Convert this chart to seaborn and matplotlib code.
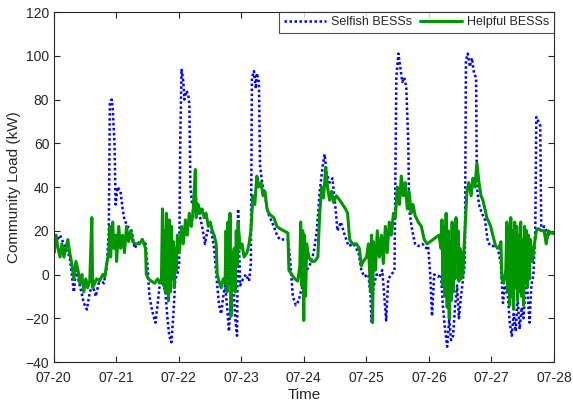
import numpy as np
import pandas as pd
import seaborn as sns
import matplotlib
matplotlib.use("Agg")
import matplotlib.pyplot as plt
import matplotlib.dates as mdates

# hours after 07-20 00:00, load in kW
selfish_hours = [0.0, 0.6, 2.5, 4.3, 6.2, 7.8, 8.6, 10.1, 11.6, 12.8, 13.9, 15.0, 16.2, 17.7, 19.3, 20.4,
                 21.2, 21.6, 22.3, 22.7, 23.4, 23.8, 24.6, 25.7, 26.5, 27.2, 28.4, 30.0, 31.1, 32.2, 33.8,
                 35.3, 36.0, 36.8, 37.9, 39.1, 39.9, 40.7, 41.8, 42.9, 43.7, 44.4, 45.2, 46.0, 46.7, 47.5,
                 48.2, 48.6, 49.1, 49.8, 50.2, 51.0, 51.7, 52.1, 52.5, 53.2, 54.4, 55.5, 57.0, 58.1, 59.0,
                 60.5, 61.6, 62.8, 63.5, 64.3, 65.1, 65.8, 66.6, 67.3, 68.1, 68.8, 69.7, 70.4, 70.8, 71.6,
                 72.7, 73.8, 75.0, 75.7, 76.1, 76.9, 77.6, 78.0, 78.8, 79.2, 80.0, 81.1, 82.3, 83.4, 84.5,
                 85.7, 86.8, 88.3, 89.9, 90.7, 91.8, 92.9, 94.1, 94.8, 96.0, 97.1, 98.2, 99.8, 101.0,
                 102.1, 103.3, 104.0, 104.8, 105.9, 107.0, 108.2, 108.9, 110.2, 111.7, 113.2, 115.1,
                 117.0, 118.1, 119.2, 120.8, 121.6, 122.0, 122.7, 123.9, 125.0, 126.1, 126.9, 127.6,
                 128.4, 129.6, 130.8, 131.5, 132.3, 133.0, 133.8, 134.5, 135.3, 136.1, 136.4, 137.6,
                 138.7, 139.9, 141.5, 143.0, 143.7, 144.5, 145.2, 146.0, 147.5, 148.6, 149.4, 150.2,
                 151.0, 151.8, 152.5, 153.3, 154.0, 154.8, 155.5, 156.3, 157.0, 157.8, 158.2, 158.9,
                 159.7, 160.5, 161.3, 162.1, 162.4, 163.2, 164.3, 165.5, 166.6, 167.7, 169.2, 170.4,
                 171.6, 172.4, 173.1, 174.3, 175.0, 175.8, 176.5, 177.3, 178.0, 178.8, 179.6, 180.3,
                 181.1, 181.8, 182.6, 183.3, 184.1, 184.8, 185.2, 186.0, 186.7, 187.1, 188.2, 189.4,
                 190.5, 192.0]
selfish_load = [16, 14, 18, 13, 8, -8, 2, -5, -13, -16, -8, -5, -10, -2, -4, 3,
                20, 78, 80, 76, 60, 32, 40, 38, 30, 25, 22, 20, 12, 14, 16,
                14, 5, -10, -17, -22, -14, -5, -3, -8, -20, -28, -31, -18, -2, 0,
                5, 60, 94, 88, 80, 84, 82, 78, 40, 32, 36, 30, 22, 14, 20,
                20, 12, -5, -14, -18, -10, -5, -15, -26, -8, 0, -20, -28, 30, -5,
                -2, 0, -3, 5, 90, 93, 85, 92, 88, 50, 42, 36, 28, 25, 22,
                18, 16, 16, 16, 8, -10, -14, -12, -8, -4, 2, 4, 10, 20,
                38, 50, 55, 46, 42, 44, 30, 20, 24, 18, 13, 14,
                10, 2, -1, 0, -10, -22, -6, 0, -1, 2, -10, -21,
                -2, 0, 2, 90, 101, 95, 88, 90, 86, 60, 30, 20,
                14, 13, 14, 12, 13, 0, -19, 0, -1, 0, -15, -25,
                -33, -20, -30, -28, -15, -5, -20, -10, -3, 5, 98, 101,
                95, 99, 92, 90, 40, 32, 28, 25, 15, 13, 13, 12,
                5, -13, -5, -10, -22, -28, -18, -26, -10, -25, -15, -20,
                -5, -8, -22, -5, 0, 20, 72, 70, 68, 20, 22, 19,
                18, 19]

helpful_hours = [0.0, 0.2, 1.0, 1.7, 2.5, 3.2, 4.0, 4.7, 5.5, 6.2, 7.0, 7.8, 8.6, 9.4, 10.1,
                 10.9, 11.6, 12.4, 13.1, 13.9, 14.7, 15.0, 15.8, 16.5, 17.7, 18.9, 19.7, 20.4, 21.2,
                 21.6, 21.9, 22.7, 23.1, 23.8, 24.2, 25.0, 25.7, 26.5, 27.2, 28.0, 28.8, 29.6, 30.4,
                 31.5, 33.0, 34.1, 35.3, 35.6, 36.4, 37.5, 38.8, 39.9, 40.7, 41.4, 41.8, 42.2, 42.5,
                 42.9, 43.3, 43.7, 44.1, 44.4, 44.8, 45.2, 45.6, 46.0, 46.3, 46.7, 47.1, 47.5, 48.2,
                 49.1, 49.8, 50.6, 51.3, 52.1, 52.9, 53.6, 54.4, 54.7, 55.5, 56.3, 57.0, 57.8, 58.5,
                 59.4, 60.1, 60.9, 61.6, 62.4, 62.8, 63.5, 64.3, 65.1, 65.8, 66.2, 66.6, 66.9, 67.3,
                 67.7, 68.1, 68.5, 68.8, 69.3, 69.7, 70.1, 70.4, 70.8, 71.6, 72.3, 73.1, 74.2, 75.0,
                 75.7, 76.5, 77.2, 78.0, 78.8, 79.6, 80.4, 81.1, 81.9, 82.6, 83.4, 84.5, 85.7, 86.8,
                 88.3, 89.9, 90.3, 91.4, 92.6, 93.7, 94.5, 94.8, 95.2, 95.6, 96.0, 96.3, 96.7, 97.1,
                 97.9, 99.0, 100.2, 101.4, 102.1, 102.9, 103.6, 104.4, 105.1, 105.9, 106.7, 107.4,
                 108.5, 109.8, 110.9, 112.0, 112.8, 113.6, 114.7, 116.2, 117.3, 118.1, 118.8, 120.1,
                 120.8, 121.6, 122.0, 122.4, 122.7, 123.5, 124.2, 125.0, 125.8, 126.5, 127.3, 128.0,
                 128.8, 129.6, 130.4, 131.1, 131.9, 132.7, 133.4, 134.2, 134.9, 135.7, 136.4, 137.2,
                 137.9, 138.7, 139.9, 141.1, 142.2, 143.3, 144.5, 145.6, 146.7, 147.9, 148.6, 149.0,
                 149.4, 149.8, 150.2, 150.6, 151.0, 151.4, 151.8, 152.1, 152.5, 152.9, 153.3, 153.6,
                 154.0, 154.4, 154.8, 155.2, 155.5, 155.9, 156.3, 156.7, 157.0, 157.8, 158.6, 159.3,
                 160.2, 160.9, 161.7, 162.4, 163.2, 164.0, 164.7, 165.5, 166.2, 167.0, 167.7, 168.5,
                 169.6, 170.9, 171.6, 172.0, 172.7, 173.5, 173.9, 174.3, 174.6, 175.0, 175.4, 175.8,
                 176.1, 176.5, 176.9, 177.3, 177.7, 178.0, 178.4, 178.8, 179.2, 179.6, 179.9, 180.3,
                 180.7, 181.1, 181.4, 181.8, 182.2, 182.6, 182.9, 183.7, 184.5, 185.2, 186.0, 187.1,
                 188.2, 189.0, 189.8, 190.9, 192.0]
helpful_load = [15, 10, 18, 12, 8, 14, 8, 12, 16, 10, 5, -2, 6, 2, -4,
                0, -8, -2, -6, -3, 26, -6, -4, -2, -3, 0, -1, 5, 10,
                22, 8, 24, 12, 18, 6, 22, 12, 18, 10, 22, 15, 20, 15,
                14, 14, 16, 12, 0, -2, -3, -4, -2, -4, -2, 30, -5, 20,
                -8, 28, 0, -12, 25, -8, 22, -2, 15, -6, 12, 2, 18, 10,
                22, 14, 25, 18, 28, 22, 30, 48, 26, 32, 28, 30, 26, 28,
                22, 24, 20, 18, 14, 0, -3, -6, -2, -4, 20, -8, 24, -4,
                28, -19, 10, -5, 12, -8, 20, 4, 24, 12, 14, 8, 10, 14,
                20, 36, 32, 45, 40, 42, 36, 38, 30, 28, 27, 26, 22, 21,
                20, 19, 2, 0, -2, -3, 4, 24, -5, 20, -21, 18, -10, 14,
                8, 6, 6, 8, 28, 40, 35, 49, 40, 34, 38, 33,
                36, 34, 32, 30, 28, 16, 14, 14, 12, 4, 6, 8,
                14, -8, 18, -22, 15, 2, 20, 8, 18, 5, 22, 10,
                24, 18, 28, 26, 40, 32, 45, 36, 42, 30, 38, 28,
                32, 27, 24, 22, 16, 14, 15, 16, 17, 18, 12, 25,
                -5, 22, -10, 28, -15, 20, -20, 15, -12, 24, -8, 18,
                -2, 26, 5, 20, -3, 12, -2, 10, 0, 20, 38, 42,
                36, 44, 40, 51, 42, 36, 34, 30, 26, 24, 22, 18,
                13, 12, 15, -2, -4, 2, 24, -8, 22, -14, 26, -10,
                20, -16, 24, -6, 22, -12, 18, -8, 24, -10, 16, -14,
                22, -4, 20, -6, 18, -2, 16, 6, 14, 20, 21, 20,
                20, 14, 20, 19, 19]

start = pd.Timestamp("2019-07-20")
selfish = pd.DataFrame({"Time": start + pd.to_timedelta(selfish_hours, unit="h"), "Load": selfish_load})
helpful = pd.DataFrame({"Time": start + pd.to_timedelta(helpful_hours, unit="h"), "Load": helpful_load})

sns.set_style("white")
plt.rcParams["font.family"] = ["Liberation Sans", "DejaVu Sans"]

fig = plt.figure(figsize=(5.73, 4.03), dpi=100)
ax = fig.add_axes([0.0934, 0.1017, 0.8735, 0.8685])

sns.lineplot(data=selfish, x="Time", y="Load", ax=ax, color="#0000ff", linestyle=(0, (1, 1)),
             linewidth=1.8, estimator=None, sort=False, label="Selfish BESSs")
sns.lineplot(data=helpful, x="Time", y="Load", ax=ax, color="#009600", linestyle="-",
             linewidth=2.2, estimator=None, sort=False, label="Helpful BESSs")

ax.set_xlim(start, start + pd.Timedelta(days=8))
ax.set_ylim(-40, 120)
ax.set_yticks(np.arange(-40, 121, 20))
ax.xaxis.set_major_locator(mdates.DayLocator())
ax.xaxis.set_major_formatter(mdates.DateFormatter("%m-%d"))

ax.set_xlabel("Time", fontsize=11, color="#262626", labelpad=2)
ax.set_ylabel("Community Load (kW)", fontsize=11, color="#262626", labelpad=3)
ax.tick_params(direction="in", length=4, width=0.8, colors="#262626", labelsize=10,
               top=True, right=True, bottom=True, left=True)
ax.tick_params(axis="x", pad=6.5)
ax.tick_params(axis="y", pad=3)
for s in ax.spines.values():
    s.set_color("#262626")
    s.set_linewidth(0.8)

leg = ax.legend(loc="upper right", ncol=2, fontsize=9, frameon=True, fancybox=False,
                borderaxespad=0, handlelength=3.4, columnspacing=0.6, borderpad=0.35,
                handletextpad=0.4)
leg.get_frame().set_edgecolor("#262626")
leg.get_frame().set_linewidth(0.8)

fig.savefig("out.png", dpi=100)
